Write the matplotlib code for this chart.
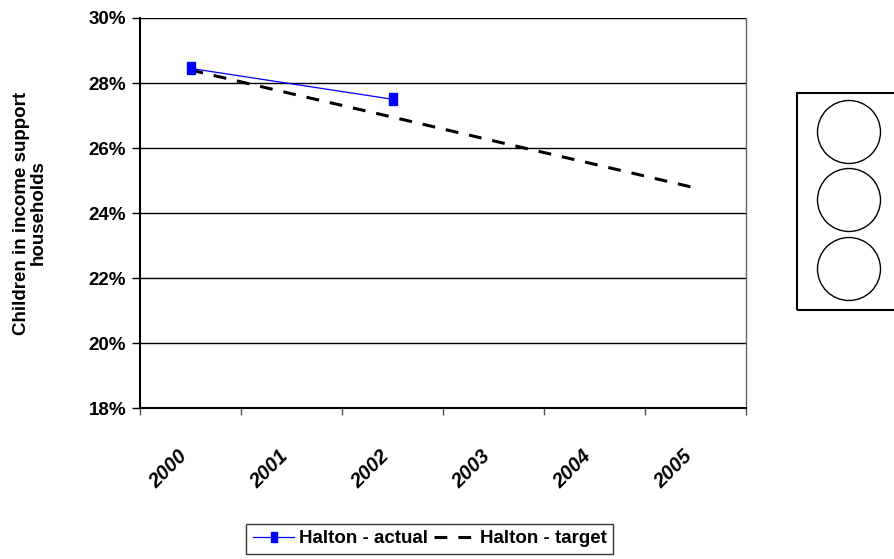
import numpy as np
import matplotlib
matplotlib.use("Agg")
from matplotlib import pyplot as plt
from matplotlib.patches import Rectangle, Circle

years = ["2000", "2001", "2002", "2003", "2004", "2005"]
actual_years = [0, 2]
actual_vals = [28.45, 27.5]
target_vals = [28.4, 27.67, 26.95, 26.22, 25.5, 24.77]
y_ticks = [18, 20, 22, 24, 26, 28, 30]

plt.rcParams['font.family'] = ['Liberation Sans', 'DejaVu Sans']

fig = plt.figure(figsize=(8.94, 5.59), dpi=100)
ax = fig.add_axes([0.1566, 0.2701, 0.6779, 0.6977])

# tall square marker, like the stretched Excel one
tall_sq = [(-0.33, -0.5), (0.33, -0.5), (0.33, 0.5), (-0.33, 0.5), (-0.33, -0.5)]

x = np.arange(len(years))
ax.plot(actual_years, actual_vals, '-', color='#0000FF', lw=0.9,
        marker=tall_sq, ms=9, mfc='#0000FF', mec='#0000FF', label='Halton - actual', zorder=3)
ax.plot(x, target_vals, '--', color='black', lw=2.2, dashes=(4.2, 3.6),
        label='Halton - target', zorder=2)

ax.set_xlim(-0.5, len(years) - 0.5)
ax.set_ylim(18, 30)
ax.set_yticks(y_ticks)
ax.set_yticklabels(["%d%%" % v for v in y_ticks], fontsize=13.5, fontweight='bold')
for v in y_ticks[1:]:
    ax.axhline(v, color='black', lw=1, zorder=1)

# category ticks sit between categories, labels at centres
ax.set_xticks(np.arange(-0.5, len(years), 1.0))
ax.set_xticklabels([])
ax.set_xticks(x, minor=True)
ax.set_xticklabels(years, minor=True, rotation=45, ha='right', va='top',
                   fontsize=14.5, fontweight='bold', fontstyle='italic')
ax.tick_params(axis='x', which='minor', length=0, pad=28)
ax.tick_params(axis='x', which='major', length=5, width=1, direction='out', color='#555555')
ax.tick_params(axis='y', length=6, width=1, direction='out', pad=4)

ax.spines['left'].set_linewidth(1.5)
ax.spines['bottom'].set_linewidth(1.5)
ax.spines['top'].set_visible(False)
ax.spines['right'].set_color('#666666')
ax.spines['right'].set_linewidth(1.0)

ax.set_ylabel("Children in income support\nhouseholds", fontsize=13.5,
              fontweight='bold', labelpad=30, linespacing=1.0)

leg = ax.legend(loc='center', bbox_to_anchor=(0.478, -0.335), ncol=2, frameon=True,
                fancybox=False, edgecolor='black',
                prop={'weight': 'bold', 'size': 13.5}, handlelength=2.2,
                handletextpad=0.25, columnspacing=0.3, borderpad=0.35,
                borderaxespad=0, markerscale=0.75)
leg.get_frame().set_linewidth(1)

# traffic light box
W, H = 894.0, 559.0
fig.patches.append(Rectangle((797 / W, 1 - 310 / H), 110 / W, 217 / H,
                             transform=fig.transFigure, fill=False,
                             edgecolor='black', lw=1.5))
lax = fig.add_axes([0, 0, 1, 1], facecolor='none')
lax.set_xlim(0, W)
lax.set_ylim(H, 0)
lax.set_aspect('equal')
lax.axis('off')
for cy in [132, 200, 269]:
    lax.add_patch(Circle((849, cy), 31.5, fill=False, edgecolor='black', lw=1))

fig.savefig("out.png", dpi=100)
